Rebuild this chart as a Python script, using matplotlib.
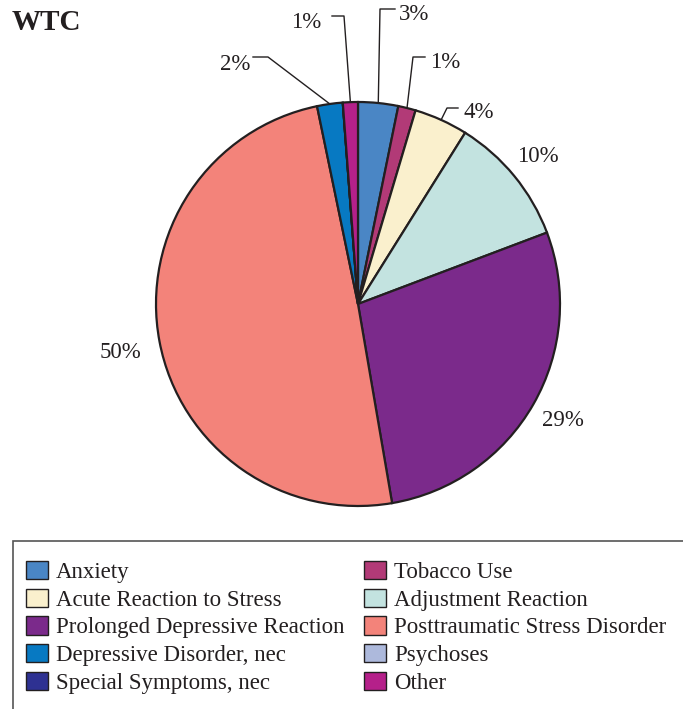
import matplotlib
matplotlib.use("Agg")
import matplotlib.pyplot as plt
from matplotlib.patches import Rectangle, Patch
import numpy as np

plt.rcParams["font.family"] = ["Liberation Serif", "DejaVu Serif"]

# Categorías, tamaño de cada porción y colores (en sentido horario desde arriba)
categorias = [
    "Anxiety",
    "Tobacco Use",
    "Acute Reaction to Stress",
    "Adjustment Reaction",
    "Prolonged Depressive Reaction",
    "Posttraumatic Stress Disorder",
    "Depressive Disorder, nec",
    "Psychoses",
    "Special Symptoms, nec",
    "Other",
]
porcentajes = [3.2, 1.4, 4.3, 10.35, 28.05, 49.45, 2.05, 0.0, 0.0, 1.2]
# Porcentajes tal como aparecen impresos en el gráfico
etiquetas = [3, 1, 4, 10, 29, 50, 2, 0, 0, 1]
colores = [
    "#4A86C5",
    "#B23A77",
    "#FAF0CD",
    "#C3E3E0",
    "#7B2A8B",
    "#F3837A",
    "#0779C2",
    "#ADB9DC",
    "#2E3192",
    "#B5208A",
]

W, H = 683, 709
fig = plt.figure(figsize=(W / 100, H / 100), dpi=100)

# Torta: centro (358, 304) px, radio 202 px
cx, cy, r = 358, 304, 202
ax = fig.add_axes([(cx - r) / W, (H - cy - r) / H, 2 * r / W, 2 * r / H])

wedges, _ = ax.pie(
    porcentajes,
    colors=colores,
    startangle=90,
    counterclock=False,
    radius=1.0,
    wedgeprops=dict(edgecolor="#231F20", linewidth=1.6),
)
ax.set_xlim(-1, 1)
ax.set_ylim(-1, 1)
ax.set_aspect("equal")
ax.axis("off")


def px(x, y):
    """Convierte píxeles de la imagen a coordenadas de datos del eje."""
    return (x - cx) / r, (cy - y) / r


# Posición de cada etiqueta (px) y codo de la línea guía (None = sin línea)
layout = {
    "Anxiety": ((414, 15), [(380, 9), (395, 9)]),
    "Tobacco Use": ((445, 63), [(413, 57), (425, 57)]),
    "Acute Reaction to Stress": ((479, 113), [(447, 108), (458, 108)]),
    "Adjustment Reaction": ((538, 156), None),
    "Prolonged Depressive Reaction": ((563, 420), None),
    "Posttraumatic Stress Disorder": ((120, 352), None),
    "Depressive Disorder, nec": ((235, 64), [(268, 57), (253, 57)]),
    "Other": ((306, 22), [(344, 16), (332, 16)]),
}

for w, nombre, valor, etiqueta in zip(wedges, categorias, porcentajes, etiquetas):
    if valor <= 0 or nombre not in layout:
        continue
    (tx, ty), guia = layout[nombre]
    if guia is not None:
        ang = np.deg2rad((w.theta1 + w.theta2) / 2)
        pts = [(np.cos(ang), np.sin(ang))] + [px(*p) for p in guia]
        xs, ys = zip(*pts)
        ax.plot(xs, ys, color="#231F20", lw=1.0, clip_on=False)
    x, y = px(tx, ty)
    ax.text(x, y, f"{etiqueta}%", ha="center", va="center", fontsize=16.5,
            color="#231F20")

fig.text(12 / W, 1 - 23 / H, "WTC", fontsize=21, fontweight="bold",
         va="center", ha="left", color="#231F20")

# Marco de la leyenda (se sale por la derecha y por abajo)
fig.add_artist(Rectangle((12.5 / W, -0.1), 1.0, (H - 541) / H + 0.1,
                         transform=fig.transFigure, fill=False,
                         edgecolor="#555555", lw=1.2))

# La leyenda se lee por filas: reordenamos para ncol=2
handles = [Patch(facecolor=c, edgecolor="#231F20", lw=1.0) for c in colores]
orden = list(range(0, 10, 2)) + list(range(1, 10, 2))
fig.legend(
    [handles[i] for i in orden],
    [categorias[i] for i in orden],
    ncol=2,
    loc="upper left",
    bbox_to_anchor=(26 / W, 1 - 561 / H),
    frameon=False,
    fontsize=16.5,
    handlelength=0.96,
    handleheight=0.85,
    handletextpad=0.35,
    labelspacing=0.245,
    columnspacing=0.85,
    borderpad=0,
    borderaxespad=0,
    labelcolor="#231F20",
)

fig.savefig("out.png", dpi=100)
